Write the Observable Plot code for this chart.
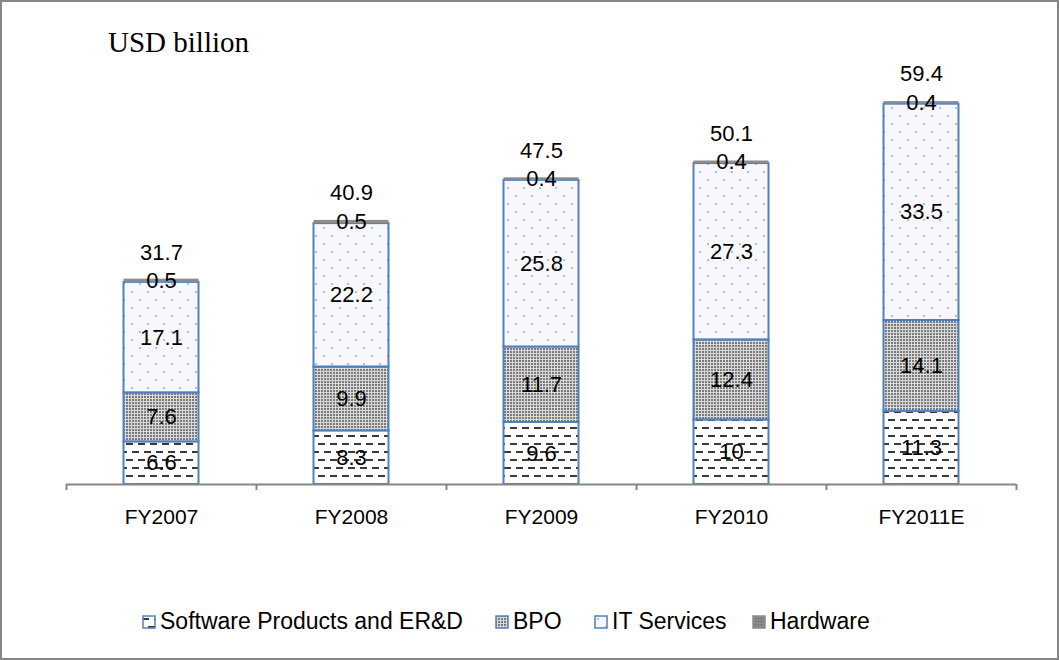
<!DOCTYPE html>
<html><head><meta charset="utf-8">
<script src="https://cdn.jsdelivr.net/npm/d3@7"></script>
<script src="https://cdn.jsdelivr.net/npm/@observablehq/plot@0.6"></script>
<style>
body{margin:0;background:#fff;}
#wrap{position:relative;width:1059px;height:660px;overflow:hidden;background:#fff;font-family:"Liberation Sans",Arial,sans-serif;color:#000;}
#frame{position:absolute;left:0;top:0;width:1059px;height:660px;box-sizing:border-box;border:2px solid #878787;pointer-events:none;}
#title{position:absolute;left:108px;top:28px;font-family:"Liberation Serif","Times New Roman",serif;font-size:29px;line-height:29px;white-space:nowrap;}
#chart{position:absolute;left:0;top:0;}
.li{position:absolute;top:610px;display:flex;align-items:center;font-size:23px;line-height:23px;white-space:nowrap;}
.li svg{margin-right:4px;display:block}
</style></head><body>
<svg width="0" height="0" style="position:absolute">
<defs>
<pattern id="pSoft" patternUnits="userSpaceOnUse" width="12" height="16">
 <rect width="12" height="16" fill="#ffffff"/>
 <rect x="0" y="3" width="7" height="2" fill="#3a3a3a"/>
 <rect x="6" y="11" width="7" height="2" fill="#3a3a3a"/>
 <rect x="-6" y="11" width="7" height="2" fill="#3a3a3a"/>
</pattern>
<pattern id="pBpo" patternUnits="userSpaceOnUse" width="3" height="3">
 <rect width="3" height="3" fill="#dadada"/>
 <rect width="2" height="2" fill="#7a7a7a"/>
</pattern>
<pattern id="pIt" patternUnits="userSpaceOnUse" width="16" height="16">
 <rect width="16" height="16" fill="#f8f8fc"/>
 <circle cx="4" cy="4" r="1.1" fill="#8db4e2"/>
 <circle cx="12" cy="12" r="1.1" fill="#8db4e2"/>
</pattern>
<pattern id="pHw" patternUnits="userSpaceOnUse" width="3" height="3">
 <rect width="3" height="3" fill="#8a8a8a"/>
 <rect width="1" height="1" fill="#5a5a5a"/>
</pattern>
</defs>
</svg>
<div id="wrap">
 <div id="chart"></div>
 <div id="title">USD billion</div>
 <div id="legend"></div>
 <div id="frame"></div>
</div>
<script>
const categories = ["FY2007", "FY2008", "FY2009", "FY2010", "FY2011E"];
const seriesNames = ["Software Products and ER&D", "BPO", "IT Services", "Hardware"];
const software = [6.6, 8.3, 9.6, 10, 11.3];
const bpo = [7.6, 9.9, 11.7, 12.4, 14.1];
const itServices = [17.1, 22.2, 25.8, 27.3, 33.5];
const hardware = [0.5, 0.5, 0.4, 0.4, 0.4];
const totals = [31.7, 40.9, 47.5, 50.1, 59.4];

const seriesValues = [software, bpo, itServices, hardware];
const fills = ["url(#pSoft)", "url(#pBpo)", "url(#pIt)", "#8c8c8c"];
const strokes = ["#4f81bd", "#4f81bd", "#4f81bd", "none"];
const legendFills = ["url(#pSoft)", "url(#pBpo)", "url(#pIt)", "url(#pHw)"];
const legendStrokes = ["#4f81bd", "#4f81bd", "#4f81bd", "#8c8c8c"];

const rows = [];
seriesNames.forEach((s, si) => {
  categories.forEach((c, ci) => {
    rows.push({cat: c, series: s, si, value: seriesValues[si][ci]});
  });
});
const totalRows = categories.map((c, i) => ({cat: c, total: totals[i]}));

const chart = Plot.plot({
  width: 1059,
  height: 560,
  marginLeft: 66,
  marginRight: 43,
  marginTop: 32,
  marginBottom: 76,
  x: {domain: categories, padding: 0, axis: null},
  y: {domain: [0, 70], axis: null},
  color: {type: "identity"},
  style: {fontFamily: "'Liberation Sans', Arial, sans-serif", fontSize: "22px", color: "#000", background: "transparent"},
  marks: [
    Plot.barY(rows, {
      x: "cat", y: "value",
      fill: d => fills[d.si],
      stroke: d => strokes[d.si],
      strokeWidth: 2,
      insetLeft: 57.5, insetRight: 57.5
    }),
    Plot.ruleY([0], {stroke: "#868686", strokeWidth: 2}),
    Plot.ruleX(categories, {x: d => d, y1: 0, y2: 0, insetBottom: -6, dx: -95, stroke: "#868686", strokeWidth: 2}),
    Plot.ruleX([categories[categories.length - 1]], {x: d => d, y1: 0, y2: 0, insetBottom: -6, dx: 95, stroke: "#868686", strokeWidth: 2}),
    Plot.axisX({tickSize: 0, tickPadding: 25, fontSize: 21, fill: "#000", label: null}),
    Plot.text(rows, Plot.stackY({x: "cat", y: "value", text: d => String(d.value), fontSize: 22, fill: "#000"})),
    Plot.text(totalRows, {x: "cat", y: "total", text: d => String(d.total), dy: -27, fontSize: 22, fill: "#000"})
  ]
});
document.getElementById("chart").appendChild(chart);

const legendX = [142, 495, 594, 752];
const legend = document.getElementById("legend");
seriesNames.forEach((s, i) => {
  const item = document.createElement("div");
  item.className = "li";
  item.style.left = legendX[i] + "px";
  item.innerHTML = `<svg width="14" height="14"><rect x="1" y="1" width="12" height="12" fill="${legendFills[i]}" stroke="${legendStrokes[i]}" stroke-width="1.5"/></svg><span></span>`;
  item.querySelector("span").textContent = s;
  legend.appendChild(item);
});
</script>
</body></html>
